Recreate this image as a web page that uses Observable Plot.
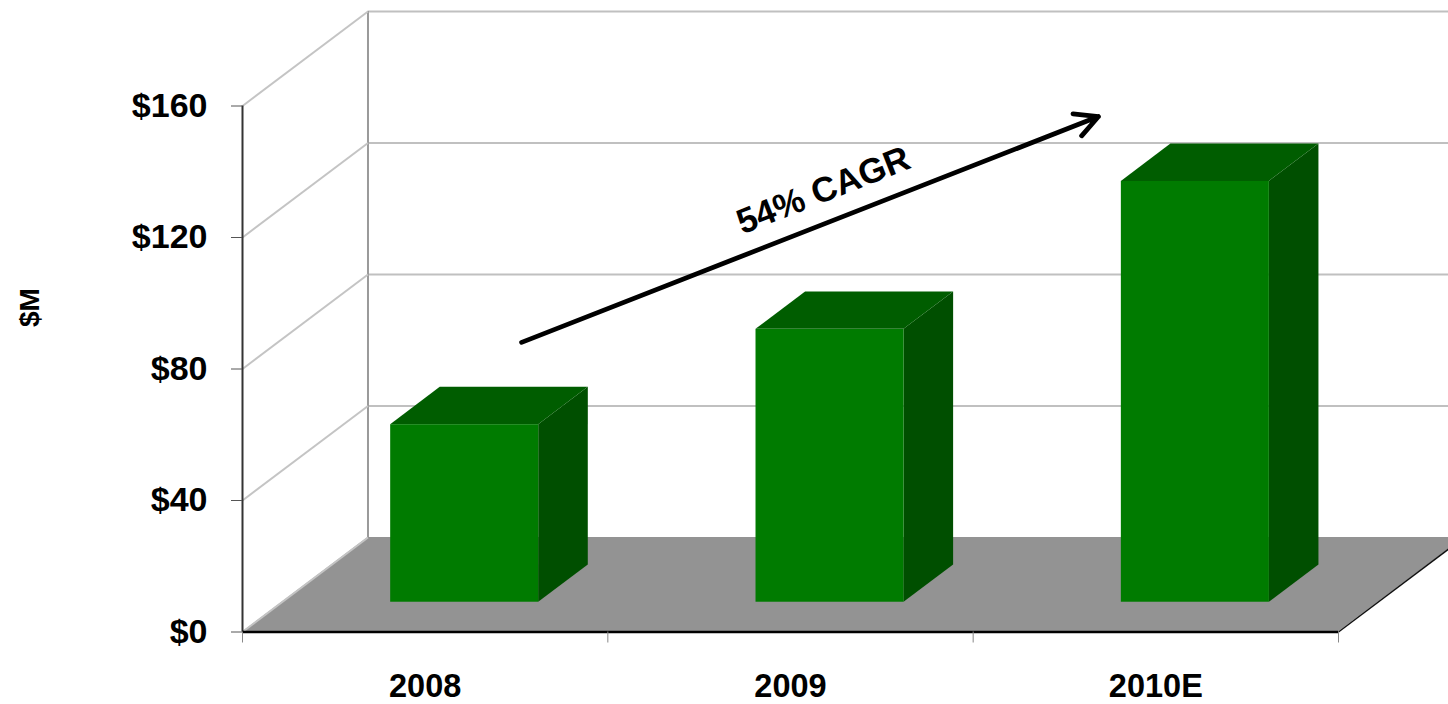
<!DOCTYPE html>
<html><head><meta charset="utf-8">
<script src="https://cdn.jsdelivr.net/npm/d3@7"></script>
<script src="https://cdn.jsdelivr.net/npm/@observablehq/plot@0.6"></script>
<style>
html,body{margin:0;padding:0;background:#fff;overflow:hidden}
#chart svg{overflow:hidden;display:block}
</style></head><body><div id="chart"></div>
<script>
// ---- data ----
const categories = ["2008", "2009", "2010E"];
const values = [54, 83, 128];               // $M
const yTicks = [0, 40, 80, 120, 160];
const yTickLabels = ["$0", "$40", "$80", "$120", "$160"];
const yLabel = "$M";
const cagrLabel = "54% CAGR";
const arrowFrom = [0.764, 88.1];            // [category position, $M]
const arrowTo = [2.343, 156.8];
const cagrLabelAt = [1.59, 134.3];

// ---- 3D geometry, in data units ----
const DX = 0.3435, DY = 28.75;   // full depth offset of the floor
const F1 = 0.315, D = 0.395, HALF = 0.2026;

const bars = categories.map((c, i) => ({
  c, xl: i + 0.5 - HALF + F1 * DX, xr: i + 0.5 + HALF + F1 * DX,
  yb: F1 * DY, yt: values[i] + F1 * DY
}));
const sides = bars.flatMap(b => [
  {c: b.c, x: b.xr, y1: b.yb, y2: b.yt},
  {c: b.c, x: b.xr + D * DX, y1: b.yb + D * DY, y2: b.yt + D * DY}
]);
const tops = bars.flatMap(b => [
  {c: b.c, y: b.yt, x1: b.xl, x2: b.xr},
  {c: b.c, y: b.yt + D * DY, x1: b.xl + D * DX, x2: b.xr + D * DX}
]);
const floor = [{y: 0, x1: 0, x2: 3}, {y: DY, x1: DX, x2: 3 + DX}];
const N = categories.length;
const bounds = d3.range(N + 1);
const centers = categories.map((c, i) => i + 0.5);

const font = "'Liberation Sans', Arial, Helvetica, sans-serif";

const chart = Plot.plot({
  width: 1448, height: 704,
  marginLeft: 242, marginRight: 110, marginTop: 105.5, marginBottom: 72.5,
  style: {fontFamily: font, background: "white", overflow: "hidden"},
  x: {domain: [0, N]},
  y: {domain: [0, 160]},
  marks: [
    // floor
    Plot.areaX(floor, {y: "y", x1: "x1", x2: "x2", fill: "#939393"}),
    // back wall gridlines
    Plot.ruleY(yTicks.slice(1), {y: d => d + DY, x1: DX, x2: N + DX, stroke: "#c0c0c0", strokeWidth: 2}),
    // back wall left edge
    Plot.ruleX([DX], {y1: DY, y2: 160 + DY, stroke: "#9a9a9a", strokeWidth: 2}),
    // left wall diagonals
    Plot.link(yTicks, {x1: 0, y1: d => d, x2: DX, y2: d => d + DY, stroke: "#c4c4c4", strokeWidth: 2}),
    // floor right edge
    Plot.link([0], {x1: N, y1: 0, x2: N + DX, y2: DY, stroke: "#111", strokeWidth: 1.5}),
    // bars
    Plot.areaY(sides, {x: "x", y1: "y1", y2: "y2", z: "c", fill: "#004f00"}),
    Plot.areaX(tops, {y: "y", x1: "x1", x2: "x2", z: "c", fill: "#005d00"}),
    Plot.rect(bars, {x1: "xl", x2: "xr", y1: "yb", y2: "yt", fill: "#007b00"}),
    // axis lines
    Plot.ruleX([0], {y1: 0, y2: 160, stroke: "#333", strokeWidth: 2}),
    Plot.ruleY([0], {x1: 0, x2: N, stroke: "black", strokeWidth: 2.5}),
    // y axis
    Plot.axisY(yTicks, {tickSize: 11, tickPadding: 24, stroke: "#555",
      tickFormat: d => yTickLabels[yTicks.indexOf(d)],
      fontSize: 34, fontWeight: "bold", fill: "black", label: null}),
    // x ticks at category bounds
    Plot.axisX(bounds, {tickSize: 11, stroke: "#888", tickFormat: () => "", label: null}),
    // x category labels
    Plot.axisX(centers, {tickSize: 0, tickPadding: 42,
      tickFormat: d => categories[Math.floor(d)],
      fontSize: 32.5, fontWeight: "bold", fill: "black", label: null}),
    // y label
    Plot.text([yLabel], {frameAnchor: "top-left", dx: -212, dy: 201.5, rotate: -90,
      textAnchor: "middle", lineAnchor: "middle", fontSize: 28, fontWeight: "bold", fill: "black"}),
    // CAGR arrow + label
    Plot.arrow([0], {x1: arrowFrom[0], y1: arrowFrom[1], x2: arrowTo[0], y2: arrowTo[1],
      stroke: "black", strokeWidth: 4.8, headLength: 8, headAngle: 55}),
    Plot.text([cagrLabel], {x: cagrLabelAt[0], y: cagrLabelAt[1], text: d => d, rotate: -21.5,
      textAnchor: "middle", lineAnchor: "middle", fontSize: 35, fontWeight: "bold", fill: "black"})
  ]
});
document.getElementById("chart").append(chart);
</script></body></html>
